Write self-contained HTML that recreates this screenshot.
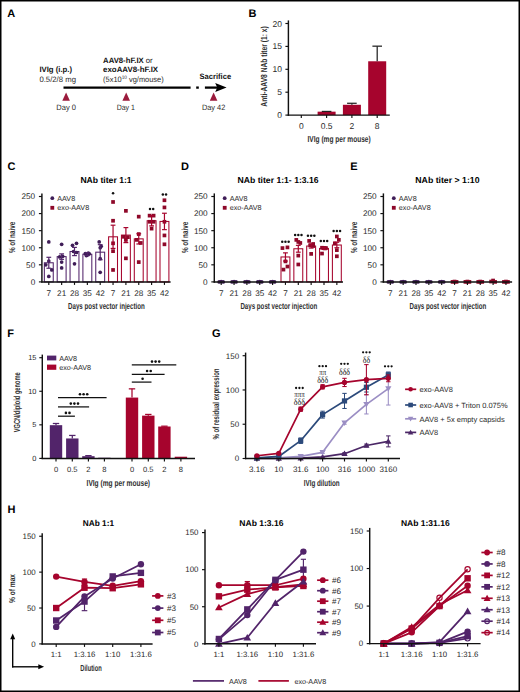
<!DOCTYPE html>
<html><head><meta charset="utf-8"><style>
html,body{margin:0;padding:0;background:#fff;}
body{width:520px;height:692px;overflow:hidden;}
svg{display:block;font-family:"Liberation Sans",sans-serif;text-rendering:geometricPrecision;}
</style></head><body>
<svg width="520" height="692" viewBox="0 0 520 692">
<rect x="0" y="0" width="520" height="692" fill="#fff"/>
<text x="7.30" y="17.00" font-size="11" fill="#000" font-weight="bold">A</text>
<text x="39.40" y="72.00" font-size="7.8" fill="#111" font-weight="bold" textLength="32.70" lengthAdjust="spacingAndGlyphs">IVIg (i.p.)</text>
<text x="39.40" y="81.60" font-size="7.8" fill="#2a2a2a" textLength="36.60" lengthAdjust="spacingAndGlyphs">0.5/2/8 mg</text>
<text x="103.1" y="62.5" font-size="7.8" fill="#111" textLength="49.6" lengthAdjust="spacingAndGlyphs"><tspan font-weight="bold">AAV8-hF.IX</tspan> or</text>
<text x="103.10" y="72.00" font-size="7.8" fill="#111" font-weight="bold" textLength="55.00" lengthAdjust="spacingAndGlyphs">exoAAV8-hF.IX</text>
<text x="103.1" y="81.8" font-size="7.8" fill="#2a2a2a" textLength="60.6" lengthAdjust="spacingAndGlyphs">(5x10<tspan font-size="5" dy="-2.8">10</tspan><tspan dy="2.8"> vg/mouse)</tspan></text>
<text x="199.50" y="78.60" font-size="7.8" fill="#111" font-weight="bold" textLength="31.60" lengthAdjust="spacingAndGlyphs">Sacrifice</text>
<line x1="63.50" y1="87.60" x2="190.60" y2="87.60" stroke="#000" stroke-width="2.3"/>
<line x1="196.20" y1="87.60" x2="198.80" y2="87.60" stroke="#000" stroke-width="2.3"/>
<line x1="204.90" y1="87.60" x2="218.00" y2="87.60" stroke="#000" stroke-width="2.3"/>
<polygon points="215.20,83.00 226.60,87.60 215.20,92.00 217.20,87.60" fill="#000"/>
<polygon points="66.10,92.40 69.90,100.70 62.30,100.70" fill="#9B1B3D"/>
<polygon points="126.20,92.40 130.00,100.70 122.40,100.70" fill="#9B1B3D"/>
<polygon points="213.60,92.40 217.40,100.70 209.80,100.70" fill="#9B1B3D"/>
<text x="66.10" y="109.90" font-size="7.8" fill="#2a2a2a" text-anchor="middle" textLength="19.60" lengthAdjust="spacingAndGlyphs">Day 0</text>
<text x="125.80" y="109.90" font-size="7.8" fill="#2a2a2a" text-anchor="middle" textLength="18.20" lengthAdjust="spacingAndGlyphs">Day 1</text>
<text x="213.60" y="109.90" font-size="7.8" fill="#2a2a2a" text-anchor="middle" textLength="23.40" lengthAdjust="spacingAndGlyphs">Day 42</text>
<text x="248.60" y="17.30" font-size="11" fill="#000" font-weight="bold">B</text>
<line x1="288.40" y1="115.80" x2="288.40" y2="20.40" stroke="#111" stroke-width="1.45"/>
<line x1="285.40" y1="115.10" x2="288.40" y2="115.10" stroke="#111" stroke-width="1.15"/>
<text x="282.00" y="118.12" font-size="8.5" fill="#2a2a2a" text-anchor="end">0</text>
<line x1="285.40" y1="92.20" x2="288.40" y2="92.20" stroke="#111" stroke-width="1.15"/>
<text x="282.00" y="95.22" font-size="8.5" fill="#2a2a2a" text-anchor="end">5</text>
<line x1="285.40" y1="69.30" x2="288.40" y2="69.30" stroke="#111" stroke-width="1.15"/>
<text x="282.00" y="72.32" font-size="8.5" fill="#2a2a2a" text-anchor="end">10</text>
<line x1="285.40" y1="46.40" x2="288.40" y2="46.40" stroke="#111" stroke-width="1.15"/>
<text x="282.00" y="49.42" font-size="8.5" fill="#2a2a2a" text-anchor="end">15</text>
<line x1="285.40" y1="23.50" x2="288.40" y2="23.50" stroke="#111" stroke-width="1.15"/>
<text x="282.00" y="26.52" font-size="8.5" fill="#2a2a2a" text-anchor="end">20</text>
<rect x="317.60" y="111.66" width="18.00" height="3.44" fill="#A6042D"/>
<rect x="342.90" y="104.79" width="18.00" height="10.30" fill="#A6042D"/>
<rect x="368.20" y="61.28" width="18.00" height="53.81" fill="#A6042D"/>
<line x1="326.60" y1="111.66" x2="326.60" y2="111.44" stroke="#222" stroke-width="1.25"/>
<line x1="321.80" y1="111.44" x2="331.40" y2="111.44" stroke="#222" stroke-width="1.25"/>
<line x1="351.90" y1="104.79" x2="351.90" y2="103.28" stroke="#222" stroke-width="1.25"/>
<line x1="347.10" y1="103.28" x2="356.70" y2="103.28" stroke="#222" stroke-width="1.25"/>
<line x1="377.20" y1="61.28" x2="377.20" y2="46.17" stroke="#222" stroke-width="1.25"/>
<line x1="372.40" y1="46.17" x2="382.00" y2="46.17" stroke="#222" stroke-width="1.25"/>
<line x1="287.70" y1="115.10" x2="389.80" y2="115.10" stroke="#111" stroke-width="1.45"/>
<line x1="301.30" y1="115.10" x2="301.30" y2="118.10" stroke="#111" stroke-width="1.15"/>
<text x="301.30" y="128.90" font-size="8.5" fill="#2a2a2a" text-anchor="middle">0</text>
<line x1="326.60" y1="115.10" x2="326.60" y2="118.10" stroke="#111" stroke-width="1.15"/>
<text x="326.60" y="128.90" font-size="8.5" fill="#2a2a2a" text-anchor="middle">0.5</text>
<line x1="351.90" y1="115.10" x2="351.90" y2="118.10" stroke="#111" stroke-width="1.15"/>
<text x="351.90" y="128.90" font-size="8.5" fill="#2a2a2a" text-anchor="middle">2</text>
<line x1="377.20" y1="115.10" x2="377.20" y2="118.10" stroke="#111" stroke-width="1.15"/>
<text x="377.20" y="128.90" font-size="8.5" fill="#2a2a2a" text-anchor="middle">8</text>
<text x="339.10" y="141.80" font-size="8.8" fill="#303030" text-anchor="middle" font-weight="bold" textLength="63.20" lengthAdjust="spacingAndGlyphs">IVIg (mg per mouse)</text>
<text x="266.80" y="66.50" font-size="8.8" fill="#303030" text-anchor="middle" font-weight="bold" textLength="80.30" lengthAdjust="spacingAndGlyphs" transform="rotate(-90 266.80 66.50)">Anti-AAV8 NAb titer (1: x)</text>
<text x="7.40" y="169.80" font-size="11" fill="#000" font-weight="bold">C</text>
<text x="80.40" y="183.40" font-size="8.6" fill="#000" font-weight="bold" textLength="51.20" lengthAdjust="spacingAndGlyphs">NAb titer 1:1</text>
<rect x="44.35" y="262.77" width="8.9" height="19.13" fill="#fff" stroke="#52246A" stroke-width="1.05"/>
<rect x="57.20" y="256.62" width="8.9" height="25.28" fill="#fff" stroke="#52246A" stroke-width="1.05"/>
<rect x="70.05" y="251.50" width="8.9" height="30.40" fill="#fff" stroke="#52246A" stroke-width="1.05"/>
<rect x="82.90" y="254.23" width="8.9" height="27.67" fill="#fff" stroke="#52246A" stroke-width="1.05"/>
<rect x="95.75" y="252.18" width="8.9" height="29.72" fill="#fff" stroke="#52246A" stroke-width="1.05"/>
<rect x="108.60" y="236.81" width="8.9" height="45.09" fill="#fff" stroke="#A6042D" stroke-width="1.05"/>
<rect x="121.45" y="235.10" width="8.9" height="46.80" fill="#fff" stroke="#A6042D" stroke-width="1.05"/>
<rect x="134.30" y="238.86" width="8.9" height="43.04" fill="#fff" stroke="#A6042D" stroke-width="1.05"/>
<rect x="147.15" y="220.75" width="8.9" height="61.15" fill="#fff" stroke="#A6042D" stroke-width="1.05"/>
<rect x="160.00" y="221.44" width="8.9" height="60.46" fill="#fff" stroke="#A6042D" stroke-width="1.05"/>
<circle cx="48.80" cy="241.93" r="1.85" fill="#3F1D57"/>
<circle cx="48.80" cy="261.06" r="1.85" fill="#3F1D57"/>
<circle cx="45.80" cy="264.82" r="1.85" fill="#3F1D57"/>
<circle cx="51.80" cy="269.94" r="1.85" fill="#3F1D57"/>
<circle cx="48.80" cy="276.43" r="1.85" fill="#3F1D57"/>
<circle cx="61.65" cy="244.32" r="1.85" fill="#3F1D57"/>
<circle cx="59.65" cy="256.96" r="1.85" fill="#3F1D57"/>
<circle cx="62.65" cy="256.28" r="1.85" fill="#3F1D57"/>
<circle cx="61.65" cy="262.09" r="1.85" fill="#3F1D57"/>
<circle cx="61.65" cy="267.89" r="1.85" fill="#3F1D57"/>
<circle cx="72.50" cy="245.35" r="1.85" fill="#3F1D57"/>
<circle cx="76.50" cy="243.30" r="1.85" fill="#3F1D57"/>
<circle cx="73.50" cy="251.50" r="1.85" fill="#3F1D57"/>
<circle cx="76.50" cy="252.52" r="1.85" fill="#3F1D57"/>
<circle cx="74.50" cy="263.80" r="1.85" fill="#3F1D57"/>
<circle cx="85.35" cy="253.55" r="1.85" fill="#3F1D57"/>
<circle cx="89.35" cy="253.89" r="1.85" fill="#3F1D57"/>
<circle cx="87.35" cy="254.91" r="1.85" fill="#3F1D57"/>
<circle cx="86.35" cy="255.60" r="1.85" fill="#3F1D57"/>
<circle cx="88.35" cy="253.21" r="1.85" fill="#3F1D57"/>
<circle cx="99.20" cy="241.93" r="1.85" fill="#3F1D57"/>
<circle cx="101.20" cy="246.37" r="1.85" fill="#3F1D57"/>
<circle cx="100.20" cy="247.74" r="1.85" fill="#3F1D57"/>
<circle cx="100.20" cy="258.67" r="1.85" fill="#3F1D57"/>
<circle cx="100.20" cy="272.34" r="1.85" fill="#3F1D57"/>
<rect x="111.20" y="200.12" width="3.70" height="3.70" fill="#8E0829"/>
<rect x="111.20" y="218.90" width="3.70" height="3.70" fill="#8E0829"/>
<rect x="111.20" y="241.45" width="3.70" height="3.70" fill="#8E0829"/>
<rect x="111.20" y="249.31" width="3.70" height="3.70" fill="#8E0829"/>
<rect x="111.20" y="268.09" width="3.70" height="3.70" fill="#8E0829"/>
<rect x="124.05" y="209.00" width="3.70" height="3.70" fill="#8E0829"/>
<rect x="122.05" y="234.96" width="3.70" height="3.70" fill="#8E0829"/>
<rect x="126.05" y="235.30" width="3.70" height="3.70" fill="#8E0829"/>
<rect x="124.05" y="238.03" width="3.70" height="3.70" fill="#8E0829"/>
<rect x="124.05" y="256.48" width="3.70" height="3.70" fill="#8E0829"/>
<rect x="136.90" y="214.80" width="3.70" height="3.70" fill="#8E0829"/>
<rect x="136.90" y="232.23" width="3.70" height="3.70" fill="#8E0829"/>
<rect x="134.90" y="238.03" width="3.70" height="3.70" fill="#8E0829"/>
<rect x="138.90" y="241.11" width="3.70" height="3.70" fill="#8E0829"/>
<rect x="136.90" y="260.24" width="3.70" height="3.70" fill="#8E0829"/>
<rect x="147.75" y="213.78" width="3.70" height="3.70" fill="#8E0829"/>
<rect x="151.75" y="213.78" width="3.70" height="3.70" fill="#8E0829"/>
<rect x="147.75" y="219.93" width="3.70" height="3.70" fill="#8E0829"/>
<rect x="151.75" y="219.93" width="3.70" height="3.70" fill="#8E0829"/>
<rect x="149.75" y="226.76" width="3.70" height="3.70" fill="#8E0829"/>
<rect x="162.60" y="198.41" width="3.70" height="3.70" fill="#8E0829"/>
<rect x="162.60" y="205.58" width="3.70" height="3.70" fill="#8E0829"/>
<rect x="162.60" y="219.93" width="3.70" height="3.70" fill="#8E0829"/>
<rect x="162.60" y="233.59" width="3.70" height="3.70" fill="#8E0829"/>
<rect x="162.60" y="242.47" width="3.70" height="3.70" fill="#8E0829"/>
<line x1="48.80" y1="268.24" x2="48.80" y2="257.30" stroke="#52246A" stroke-width="1.2"/>
<line x1="46.40" y1="257.30" x2="51.20" y2="257.30" stroke="#52246A" stroke-width="1.2"/>
<line x1="46.40" y1="268.24" x2="51.20" y2="268.24" stroke="#52246A" stroke-width="1.2"/>
<line x1="61.65" y1="259.35" x2="61.65" y2="253.89" stroke="#52246A" stroke-width="1.2"/>
<line x1="59.25" y1="253.89" x2="64.05" y2="253.89" stroke="#52246A" stroke-width="1.2"/>
<line x1="59.25" y1="259.35" x2="64.05" y2="259.35" stroke="#52246A" stroke-width="1.2"/>
<line x1="74.50" y1="255.60" x2="74.50" y2="247.40" stroke="#52246A" stroke-width="1.2"/>
<line x1="72.10" y1="247.40" x2="76.90" y2="247.40" stroke="#52246A" stroke-width="1.2"/>
<line x1="72.10" y1="255.60" x2="76.90" y2="255.60" stroke="#52246A" stroke-width="1.2"/>
<line x1="87.35" y1="255.60" x2="87.35" y2="252.86" stroke="#52246A" stroke-width="1.2"/>
<line x1="84.95" y1="252.86" x2="89.75" y2="252.86" stroke="#52246A" stroke-width="1.2"/>
<line x1="84.95" y1="255.60" x2="89.75" y2="255.60" stroke="#52246A" stroke-width="1.2"/>
<line x1="100.20" y1="259.70" x2="100.20" y2="244.67" stroke="#52246A" stroke-width="1.2"/>
<line x1="97.80" y1="244.67" x2="102.60" y2="244.67" stroke="#52246A" stroke-width="1.2"/>
<line x1="97.80" y1="259.70" x2="102.60" y2="259.70" stroke="#52246A" stroke-width="1.2"/>
<line x1="113.05" y1="248.42" x2="113.05" y2="225.19" stroke="#A6042D" stroke-width="1.2"/>
<line x1="110.65" y1="225.19" x2="115.45" y2="225.19" stroke="#A6042D" stroke-width="1.2"/>
<line x1="110.65" y1="248.42" x2="115.45" y2="248.42" stroke="#A6042D" stroke-width="1.2"/>
<line x1="125.90" y1="242.62" x2="125.90" y2="227.59" stroke="#A6042D" stroke-width="1.2"/>
<line x1="123.50" y1="227.59" x2="128.30" y2="227.59" stroke="#A6042D" stroke-width="1.2"/>
<line x1="123.50" y1="242.62" x2="128.30" y2="242.62" stroke="#A6042D" stroke-width="1.2"/>
<line x1="138.75" y1="243.98" x2="138.75" y2="233.73" stroke="#A6042D" stroke-width="1.2"/>
<line x1="136.35" y1="233.73" x2="141.15" y2="233.73" stroke="#A6042D" stroke-width="1.2"/>
<line x1="136.35" y1="243.98" x2="141.15" y2="243.98" stroke="#A6042D" stroke-width="1.2"/>
<line x1="151.60" y1="225.88" x2="151.60" y2="215.63" stroke="#A6042D" stroke-width="1.2"/>
<line x1="149.20" y1="215.63" x2="154.00" y2="215.63" stroke="#A6042D" stroke-width="1.2"/>
<line x1="149.20" y1="225.88" x2="154.00" y2="225.88" stroke="#A6042D" stroke-width="1.2"/>
<line x1="164.45" y1="229.64" x2="164.45" y2="213.24" stroke="#A6042D" stroke-width="1.2"/>
<line x1="162.05" y1="213.24" x2="166.85" y2="213.24" stroke="#A6042D" stroke-width="1.2"/>
<line x1="162.05" y1="229.64" x2="166.85" y2="229.64" stroke="#A6042D" stroke-width="1.2"/>
<circle cx="113.05" cy="193.20" r="1.25" fill="#111"/>
<circle cx="150.00" cy="208.90" r="1.25" fill="#111"/>
<circle cx="153.20" cy="208.90" r="1.25" fill="#111"/>
<circle cx="162.85" cy="194.40" r="1.25" fill="#111"/>
<circle cx="166.05" cy="194.40" r="1.25" fill="#111"/>
<line x1="41.90" y1="282.60" x2="41.90" y2="193.40" stroke="#111" stroke-width="1.45"/>
<line x1="38.90" y1="281.90" x2="41.90" y2="281.90" stroke="#111" stroke-width="1.15"/>
<text x="35.20" y="284.81" font-size="8.2" fill="#2a2a2a" text-anchor="end">0</text>
<line x1="38.90" y1="264.82" x2="41.90" y2="264.82" stroke="#111" stroke-width="1.15"/>
<text x="35.20" y="267.73" font-size="8.2" fill="#2a2a2a" text-anchor="end">50</text>
<line x1="38.90" y1="247.74" x2="41.90" y2="247.74" stroke="#111" stroke-width="1.15"/>
<text x="35.20" y="250.65" font-size="8.2" fill="#2a2a2a" text-anchor="end">100</text>
<line x1="38.90" y1="230.66" x2="41.90" y2="230.66" stroke="#111" stroke-width="1.15"/>
<text x="35.20" y="233.57" font-size="8.2" fill="#2a2a2a" text-anchor="end">150</text>
<line x1="38.90" y1="213.58" x2="41.90" y2="213.58" stroke="#111" stroke-width="1.15"/>
<text x="35.20" y="216.49" font-size="8.2" fill="#2a2a2a" text-anchor="end">200</text>
<line x1="38.90" y1="196.50" x2="41.90" y2="196.50" stroke="#111" stroke-width="1.15"/>
<text x="35.20" y="199.41" font-size="8.2" fill="#2a2a2a" text-anchor="end">250</text>
<line x1="41.20" y1="281.90" x2="170.60" y2="281.90" stroke="#111" stroke-width="1.45"/>
<line x1="48.80" y1="281.90" x2="48.80" y2="284.90" stroke="#111" stroke-width="1.15"/>
<text x="48.80" y="295.80" font-size="8.2" fill="#2a2a2a" text-anchor="middle">7</text>
<line x1="61.65" y1="281.90" x2="61.65" y2="284.90" stroke="#111" stroke-width="1.15"/>
<text x="61.65" y="295.80" font-size="8.2" fill="#2a2a2a" text-anchor="middle">21</text>
<line x1="74.50" y1="281.90" x2="74.50" y2="284.90" stroke="#111" stroke-width="1.15"/>
<text x="74.50" y="295.80" font-size="8.2" fill="#2a2a2a" text-anchor="middle">28</text>
<line x1="87.35" y1="281.90" x2="87.35" y2="284.90" stroke="#111" stroke-width="1.15"/>
<text x="87.35" y="295.80" font-size="8.2" fill="#2a2a2a" text-anchor="middle">35</text>
<line x1="100.20" y1="281.90" x2="100.20" y2="284.90" stroke="#111" stroke-width="1.15"/>
<text x="100.20" y="295.80" font-size="8.2" fill="#2a2a2a" text-anchor="middle">42</text>
<line x1="113.05" y1="281.90" x2="113.05" y2="284.90" stroke="#111" stroke-width="1.15"/>
<text x="113.05" y="295.80" font-size="8.2" fill="#2a2a2a" text-anchor="middle">7</text>
<line x1="125.90" y1="281.90" x2="125.90" y2="284.90" stroke="#111" stroke-width="1.15"/>
<text x="125.90" y="295.80" font-size="8.2" fill="#2a2a2a" text-anchor="middle">21</text>
<line x1="138.75" y1="281.90" x2="138.75" y2="284.90" stroke="#111" stroke-width="1.15"/>
<text x="138.75" y="295.80" font-size="8.2" fill="#2a2a2a" text-anchor="middle">28</text>
<line x1="151.60" y1="281.90" x2="151.60" y2="284.90" stroke="#111" stroke-width="1.15"/>
<text x="151.60" y="295.80" font-size="8.2" fill="#2a2a2a" text-anchor="middle">35</text>
<line x1="164.45" y1="281.90" x2="164.45" y2="284.90" stroke="#111" stroke-width="1.15"/>
<text x="164.45" y="295.80" font-size="8.2" fill="#2a2a2a" text-anchor="middle">42</text>
<text x="106.40" y="308.50" font-size="8.8" fill="#303030" text-anchor="middle" font-weight="bold" textLength="76.80" lengthAdjust="spacingAndGlyphs">Days post vector injection</text>
<text x="15.50" y="237.40" font-size="8.8" fill="#303030" text-anchor="middle" font-weight="bold" textLength="31.20" lengthAdjust="spacingAndGlyphs" transform="rotate(-90 15.50 237.40)">% of naive</text>
<circle cx="52.30" cy="198.20" r="1.90" fill="#3F1D57"/>
<text x="57.30" y="200.60" font-size="7.2" fill="#2a2a2a">AAV8</text>
<rect x="50.40" y="205.90" width="3.80" height="3.80" fill="#8E0829"/>
<text x="57.30" y="210.30" font-size="7.2" fill="#2a2a2a">exo-AAV8</text>
<text x="181.00" y="169.80" font-size="11" fill="#000" font-weight="bold">D</text>
<text x="237.60" y="183.40" font-size="8.6" fill="#000" font-weight="bold" textLength="81.00" lengthAdjust="spacingAndGlyphs">NAb titer 1:1- 1:3.16</text>
<rect x="281.00" y="256.96" width="8.9" height="24.94" fill="#fff" stroke="#A6042D" stroke-width="1.05"/>
<rect x="293.85" y="248.76" width="8.9" height="33.14" fill="#fff" stroke="#A6042D" stroke-width="1.05"/>
<rect x="306.70" y="246.03" width="8.9" height="35.87" fill="#fff" stroke="#A6042D" stroke-width="1.05"/>
<rect x="319.55" y="248.42" width="8.9" height="33.48" fill="#fff" stroke="#A6042D" stroke-width="1.05"/>
<rect x="332.40" y="245.01" width="8.9" height="36.89" fill="#fff" stroke="#A6042D" stroke-width="1.05"/>
<circle cx="221.20" cy="281.56" r="1.85" fill="#3F1D57"/>
<circle cx="219.20" cy="281.90" r="1.85" fill="#3F1D57"/>
<circle cx="223.20" cy="281.90" r="1.85" fill="#3F1D57"/>
<circle cx="234.05" cy="281.56" r="1.85" fill="#3F1D57"/>
<circle cx="232.05" cy="281.90" r="1.85" fill="#3F1D57"/>
<circle cx="236.05" cy="281.90" r="1.85" fill="#3F1D57"/>
<circle cx="246.90" cy="281.56" r="1.85" fill="#3F1D57"/>
<circle cx="244.90" cy="281.90" r="1.85" fill="#3F1D57"/>
<circle cx="248.90" cy="281.90" r="1.85" fill="#3F1D57"/>
<circle cx="259.75" cy="281.56" r="1.85" fill="#3F1D57"/>
<circle cx="257.75" cy="281.90" r="1.85" fill="#3F1D57"/>
<circle cx="261.75" cy="281.90" r="1.85" fill="#3F1D57"/>
<circle cx="272.60" cy="281.56" r="1.85" fill="#3F1D57"/>
<circle cx="270.60" cy="281.90" r="1.85" fill="#3F1D57"/>
<circle cx="274.60" cy="281.90" r="1.85" fill="#3F1D57"/>
<rect x="280.60" y="246.23" width="3.70" height="3.70" fill="#8E0829"/>
<rect x="285.60" y="245.55" width="3.70" height="3.70" fill="#8E0829"/>
<rect x="285.60" y="264.68" width="3.70" height="3.70" fill="#8E0829"/>
<rect x="281.60" y="267.75" width="3.70" height="3.70" fill="#8E0829"/>
<rect x="283.60" y="259.55" width="3.70" height="3.70" fill="#8E0829"/>
<rect x="294.45" y="238.03" width="3.70" height="3.70" fill="#8E0829"/>
<rect x="298.45" y="241.11" width="3.70" height="3.70" fill="#8E0829"/>
<rect x="296.45" y="240.08" width="3.70" height="3.70" fill="#8E0829"/>
<rect x="296.45" y="253.75" width="3.70" height="3.70" fill="#8E0829"/>
<rect x="296.45" y="262.63" width="3.70" height="3.70" fill="#8E0829"/>
<rect x="307.30" y="239.06" width="3.70" height="3.70" fill="#8E0829"/>
<rect x="311.30" y="242.13" width="3.70" height="3.70" fill="#8E0829"/>
<rect x="308.30" y="243.50" width="3.70" height="3.70" fill="#8E0829"/>
<rect x="311.30" y="244.18" width="3.70" height="3.70" fill="#8E0829"/>
<rect x="309.30" y="252.04" width="3.70" height="3.70" fill="#8E0829"/>
<rect x="320.15" y="245.89" width="3.70" height="3.70" fill="#8E0829"/>
<rect x="324.15" y="246.23" width="3.70" height="3.70" fill="#8E0829"/>
<rect x="322.15" y="246.23" width="3.70" height="3.70" fill="#8E0829"/>
<rect x="323.15" y="246.57" width="3.70" height="3.70" fill="#8E0829"/>
<rect x="320.15" y="251.70" width="3.70" height="3.70" fill="#8E0829"/>
<rect x="335.00" y="234.62" width="3.70" height="3.70" fill="#8E0829"/>
<rect x="337.00" y="238.03" width="3.70" height="3.70" fill="#8E0829"/>
<rect x="333.00" y="241.45" width="3.70" height="3.70" fill="#8E0829"/>
<rect x="335.00" y="248.28" width="3.70" height="3.70" fill="#8E0829"/>
<rect x="335.00" y="254.43" width="3.70" height="3.70" fill="#8E0829"/>
<line x1="285.45" y1="261.06" x2="285.45" y2="252.86" stroke="#A6042D" stroke-width="1.2"/>
<line x1="283.05" y1="252.86" x2="287.85" y2="252.86" stroke="#A6042D" stroke-width="1.2"/>
<line x1="283.05" y1="261.06" x2="287.85" y2="261.06" stroke="#A6042D" stroke-width="1.2"/>
<line x1="298.30" y1="252.18" x2="298.30" y2="245.35" stroke="#A6042D" stroke-width="1.2"/>
<line x1="295.90" y1="245.35" x2="300.70" y2="245.35" stroke="#A6042D" stroke-width="1.2"/>
<line x1="295.90" y1="252.18" x2="300.70" y2="252.18" stroke="#A6042D" stroke-width="1.2"/>
<line x1="311.15" y1="248.08" x2="311.15" y2="243.98" stroke="#A6042D" stroke-width="1.2"/>
<line x1="308.75" y1="243.98" x2="313.55" y2="243.98" stroke="#A6042D" stroke-width="1.2"/>
<line x1="308.75" y1="248.08" x2="313.55" y2="248.08" stroke="#A6042D" stroke-width="1.2"/>
<line x1="324.00" y1="249.45" x2="324.00" y2="247.40" stroke="#A6042D" stroke-width="1.2"/>
<line x1="321.60" y1="247.40" x2="326.40" y2="247.40" stroke="#A6042D" stroke-width="1.2"/>
<line x1="321.60" y1="249.45" x2="326.40" y2="249.45" stroke="#A6042D" stroke-width="1.2"/>
<line x1="336.85" y1="247.74" x2="336.85" y2="242.27" stroke="#A6042D" stroke-width="1.2"/>
<line x1="334.45" y1="242.27" x2="339.25" y2="242.27" stroke="#A6042D" stroke-width="1.2"/>
<line x1="334.45" y1="247.74" x2="339.25" y2="247.74" stroke="#A6042D" stroke-width="1.2"/>
<circle cx="282.25" cy="241.80" r="1.25" fill="#111"/>
<circle cx="285.45" cy="241.80" r="1.25" fill="#111"/>
<circle cx="288.65" cy="241.80" r="1.25" fill="#111"/>
<circle cx="295.10" cy="235.10" r="1.25" fill="#111"/>
<circle cx="298.30" cy="235.10" r="1.25" fill="#111"/>
<circle cx="301.50" cy="235.10" r="1.25" fill="#111"/>
<circle cx="307.95" cy="235.80" r="1.25" fill="#111"/>
<circle cx="311.15" cy="235.80" r="1.25" fill="#111"/>
<circle cx="314.35" cy="235.80" r="1.25" fill="#111"/>
<circle cx="320.80" cy="240.90" r="1.25" fill="#111"/>
<circle cx="324.00" cy="240.90" r="1.25" fill="#111"/>
<circle cx="327.20" cy="240.90" r="1.25" fill="#111"/>
<circle cx="333.65" cy="231.10" r="1.25" fill="#111"/>
<circle cx="336.85" cy="231.10" r="1.25" fill="#111"/>
<circle cx="340.05" cy="231.10" r="1.25" fill="#111"/>
<line x1="214.30" y1="282.60" x2="214.30" y2="193.40" stroke="#111" stroke-width="1.45"/>
<line x1="211.30" y1="281.90" x2="214.30" y2="281.90" stroke="#111" stroke-width="1.15"/>
<text x="207.60" y="284.81" font-size="8.2" fill="#2a2a2a" text-anchor="end">0</text>
<line x1="211.30" y1="264.82" x2="214.30" y2="264.82" stroke="#111" stroke-width="1.15"/>
<text x="207.60" y="267.73" font-size="8.2" fill="#2a2a2a" text-anchor="end">50</text>
<line x1="211.30" y1="247.74" x2="214.30" y2="247.74" stroke="#111" stroke-width="1.15"/>
<text x="207.60" y="250.65" font-size="8.2" fill="#2a2a2a" text-anchor="end">100</text>
<line x1="211.30" y1="230.66" x2="214.30" y2="230.66" stroke="#111" stroke-width="1.15"/>
<text x="207.60" y="233.57" font-size="8.2" fill="#2a2a2a" text-anchor="end">150</text>
<line x1="211.30" y1="213.58" x2="214.30" y2="213.58" stroke="#111" stroke-width="1.15"/>
<text x="207.60" y="216.49" font-size="8.2" fill="#2a2a2a" text-anchor="end">200</text>
<line x1="211.30" y1="196.50" x2="214.30" y2="196.50" stroke="#111" stroke-width="1.15"/>
<text x="207.60" y="199.41" font-size="8.2" fill="#2a2a2a" text-anchor="end">250</text>
<line x1="213.60" y1="281.90" x2="343.00" y2="281.90" stroke="#111" stroke-width="1.45"/>
<line x1="221.20" y1="281.90" x2="221.20" y2="284.90" stroke="#111" stroke-width="1.15"/>
<text x="221.20" y="295.80" font-size="8.2" fill="#2a2a2a" text-anchor="middle">7</text>
<line x1="234.05" y1="281.90" x2="234.05" y2="284.90" stroke="#111" stroke-width="1.15"/>
<text x="234.05" y="295.80" font-size="8.2" fill="#2a2a2a" text-anchor="middle">21</text>
<line x1="246.90" y1="281.90" x2="246.90" y2="284.90" stroke="#111" stroke-width="1.15"/>
<text x="246.90" y="295.80" font-size="8.2" fill="#2a2a2a" text-anchor="middle">28</text>
<line x1="259.75" y1="281.90" x2="259.75" y2="284.90" stroke="#111" stroke-width="1.15"/>
<text x="259.75" y="295.80" font-size="8.2" fill="#2a2a2a" text-anchor="middle">35</text>
<line x1="272.60" y1="281.90" x2="272.60" y2="284.90" stroke="#111" stroke-width="1.15"/>
<text x="272.60" y="295.80" font-size="8.2" fill="#2a2a2a" text-anchor="middle">42</text>
<line x1="285.45" y1="281.90" x2="285.45" y2="284.90" stroke="#111" stroke-width="1.15"/>
<text x="285.45" y="295.80" font-size="8.2" fill="#2a2a2a" text-anchor="middle">7</text>
<line x1="298.30" y1="281.90" x2="298.30" y2="284.90" stroke="#111" stroke-width="1.15"/>
<text x="298.30" y="295.80" font-size="8.2" fill="#2a2a2a" text-anchor="middle">21</text>
<line x1="311.15" y1="281.90" x2="311.15" y2="284.90" stroke="#111" stroke-width="1.15"/>
<text x="311.15" y="295.80" font-size="8.2" fill="#2a2a2a" text-anchor="middle">28</text>
<line x1="324.00" y1="281.90" x2="324.00" y2="284.90" stroke="#111" stroke-width="1.15"/>
<text x="324.00" y="295.80" font-size="8.2" fill="#2a2a2a" text-anchor="middle">35</text>
<line x1="336.85" y1="281.90" x2="336.85" y2="284.90" stroke="#111" stroke-width="1.15"/>
<text x="336.85" y="295.80" font-size="8.2" fill="#2a2a2a" text-anchor="middle">42</text>
<text x="278.80" y="308.50" font-size="8.8" fill="#303030" text-anchor="middle" font-weight="bold" textLength="76.80" lengthAdjust="spacingAndGlyphs">Days post vector injection</text>
<text x="187.90" y="237.40" font-size="8.8" fill="#303030" text-anchor="middle" font-weight="bold" textLength="31.20" lengthAdjust="spacingAndGlyphs" transform="rotate(-90 187.90 237.40)">% of naive</text>
<circle cx="224.70" cy="198.20" r="1.90" fill="#3F1D57"/>
<text x="229.70" y="200.60" font-size="7.2" fill="#2a2a2a">AAV8</text>
<rect x="222.80" y="205.90" width="3.80" height="3.80" fill="#8E0829"/>
<text x="229.70" y="210.30" font-size="7.2" fill="#2a2a2a">exo-AAV8</text>
<text x="350.20" y="169.80" font-size="11" fill="#000" font-weight="bold">E</text>
<text x="415.30" y="183.40" font-size="8.6" fill="#000" font-weight="bold" textLength="64.20" lengthAdjust="spacingAndGlyphs">NAb titer &gt; 1:10</text>
<circle cx="390.30" cy="281.56" r="1.85" fill="#3F1D57"/>
<circle cx="388.30" cy="281.90" r="1.85" fill="#3F1D57"/>
<circle cx="392.30" cy="281.90" r="1.85" fill="#3F1D57"/>
<circle cx="403.15" cy="281.56" r="1.85" fill="#3F1D57"/>
<circle cx="401.15" cy="281.90" r="1.85" fill="#3F1D57"/>
<circle cx="405.15" cy="281.90" r="1.85" fill="#3F1D57"/>
<circle cx="416.00" cy="281.56" r="1.85" fill="#3F1D57"/>
<circle cx="414.00" cy="281.90" r="1.85" fill="#3F1D57"/>
<circle cx="418.00" cy="281.90" r="1.85" fill="#3F1D57"/>
<circle cx="428.85" cy="281.56" r="1.85" fill="#3F1D57"/>
<circle cx="426.85" cy="281.90" r="1.85" fill="#3F1D57"/>
<circle cx="430.85" cy="281.90" r="1.85" fill="#3F1D57"/>
<circle cx="441.70" cy="281.56" r="1.85" fill="#3F1D57"/>
<circle cx="439.70" cy="281.90" r="1.85" fill="#3F1D57"/>
<circle cx="443.70" cy="281.90" r="1.85" fill="#3F1D57"/>
<rect x="452.70" y="279.71" width="3.70" height="3.70" fill="#8E0829"/>
<rect x="450.70" y="280.05" width="3.70" height="3.70" fill="#8E0829"/>
<rect x="454.70" y="280.05" width="3.70" height="3.70" fill="#8E0829"/>
<rect x="465.55" y="279.71" width="3.70" height="3.70" fill="#8E0829"/>
<rect x="463.55" y="280.05" width="3.70" height="3.70" fill="#8E0829"/>
<rect x="467.55" y="280.05" width="3.70" height="3.70" fill="#8E0829"/>
<rect x="478.40" y="279.71" width="3.70" height="3.70" fill="#8E0829"/>
<rect x="476.40" y="280.05" width="3.70" height="3.70" fill="#8E0829"/>
<rect x="480.40" y="280.05" width="3.70" height="3.70" fill="#8E0829"/>
<rect x="491.25" y="278.68" width="3.70" height="3.70" fill="#8E0829"/>
<rect x="489.25" y="279.71" width="3.70" height="3.70" fill="#8E0829"/>
<rect x="493.25" y="280.05" width="3.70" height="3.70" fill="#8E0829"/>
<rect x="504.10" y="279.71" width="3.70" height="3.70" fill="#8E0829"/>
<rect x="502.10" y="280.05" width="3.70" height="3.70" fill="#8E0829"/>
<rect x="506.10" y="280.05" width="3.70" height="3.70" fill="#8E0829"/>
<line x1="383.40" y1="282.60" x2="383.40" y2="193.40" stroke="#111" stroke-width="1.45"/>
<line x1="380.40" y1="281.90" x2="383.40" y2="281.90" stroke="#111" stroke-width="1.15"/>
<text x="376.70" y="284.81" font-size="8.2" fill="#2a2a2a" text-anchor="end">0</text>
<line x1="380.40" y1="264.82" x2="383.40" y2="264.82" stroke="#111" stroke-width="1.15"/>
<text x="376.70" y="267.73" font-size="8.2" fill="#2a2a2a" text-anchor="end">50</text>
<line x1="380.40" y1="247.74" x2="383.40" y2="247.74" stroke="#111" stroke-width="1.15"/>
<text x="376.70" y="250.65" font-size="8.2" fill="#2a2a2a" text-anchor="end">100</text>
<line x1="380.40" y1="230.66" x2="383.40" y2="230.66" stroke="#111" stroke-width="1.15"/>
<text x="376.70" y="233.57" font-size="8.2" fill="#2a2a2a" text-anchor="end">150</text>
<line x1="380.40" y1="213.58" x2="383.40" y2="213.58" stroke="#111" stroke-width="1.15"/>
<text x="376.70" y="216.49" font-size="8.2" fill="#2a2a2a" text-anchor="end">200</text>
<line x1="380.40" y1="196.50" x2="383.40" y2="196.50" stroke="#111" stroke-width="1.15"/>
<text x="376.70" y="199.41" font-size="8.2" fill="#2a2a2a" text-anchor="end">250</text>
<line x1="382.70" y1="281.90" x2="512.10" y2="281.90" stroke="#111" stroke-width="1.45"/>
<line x1="390.30" y1="281.90" x2="390.30" y2="284.90" stroke="#111" stroke-width="1.15"/>
<text x="390.30" y="295.80" font-size="8.2" fill="#2a2a2a" text-anchor="middle">7</text>
<line x1="403.15" y1="281.90" x2="403.15" y2="284.90" stroke="#111" stroke-width="1.15"/>
<text x="403.15" y="295.80" font-size="8.2" fill="#2a2a2a" text-anchor="middle">21</text>
<line x1="416.00" y1="281.90" x2="416.00" y2="284.90" stroke="#111" stroke-width="1.15"/>
<text x="416.00" y="295.80" font-size="8.2" fill="#2a2a2a" text-anchor="middle">28</text>
<line x1="428.85" y1="281.90" x2="428.85" y2="284.90" stroke="#111" stroke-width="1.15"/>
<text x="428.85" y="295.80" font-size="8.2" fill="#2a2a2a" text-anchor="middle">35</text>
<line x1="441.70" y1="281.90" x2="441.70" y2="284.90" stroke="#111" stroke-width="1.15"/>
<text x="441.70" y="295.80" font-size="8.2" fill="#2a2a2a" text-anchor="middle">42</text>
<line x1="454.55" y1="281.90" x2="454.55" y2="284.90" stroke="#111" stroke-width="1.15"/>
<text x="454.55" y="295.80" font-size="8.2" fill="#2a2a2a" text-anchor="middle">7</text>
<line x1="467.40" y1="281.90" x2="467.40" y2="284.90" stroke="#111" stroke-width="1.15"/>
<text x="467.40" y="295.80" font-size="8.2" fill="#2a2a2a" text-anchor="middle">21</text>
<line x1="480.25" y1="281.90" x2="480.25" y2="284.90" stroke="#111" stroke-width="1.15"/>
<text x="480.25" y="295.80" font-size="8.2" fill="#2a2a2a" text-anchor="middle">28</text>
<line x1="493.10" y1="281.90" x2="493.10" y2="284.90" stroke="#111" stroke-width="1.15"/>
<text x="493.10" y="295.80" font-size="8.2" fill="#2a2a2a" text-anchor="middle">35</text>
<line x1="505.95" y1="281.90" x2="505.95" y2="284.90" stroke="#111" stroke-width="1.15"/>
<text x="505.95" y="295.80" font-size="8.2" fill="#2a2a2a" text-anchor="middle">42</text>
<text x="447.90" y="308.50" font-size="8.8" fill="#303030" text-anchor="middle" font-weight="bold" textLength="76.80" lengthAdjust="spacingAndGlyphs">Days post vector injection</text>
<text x="357.00" y="237.40" font-size="8.8" fill="#303030" text-anchor="middle" font-weight="bold" textLength="31.20" lengthAdjust="spacingAndGlyphs" transform="rotate(-90 357.00 237.40)">% of naive</text>
<circle cx="393.80" cy="198.20" r="1.90" fill="#3F1D57"/>
<text x="398.80" y="200.60" font-size="7.2" fill="#2a2a2a">AAV8</text>
<rect x="391.90" y="205.90" width="3.80" height="3.80" fill="#8E0829"/>
<text x="398.80" y="210.30" font-size="7.2" fill="#2a2a2a">exo-AAV8</text>
<text x="7.20" y="337.40" font-size="11" fill="#000" font-weight="bold">F</text>
<line x1="42.30" y1="459.10" x2="42.30" y2="354.60" stroke="#111" stroke-width="1.45"/>
<line x1="39.30" y1="458.40" x2="42.30" y2="458.40" stroke="#111" stroke-width="1.15"/>
<text x="36.40" y="461.03" font-size="7.4" fill="#2a2a2a" text-anchor="end">0</text>
<line x1="39.30" y1="424.83" x2="42.30" y2="424.83" stroke="#111" stroke-width="1.15"/>
<text x="36.40" y="427.46" font-size="7.4" fill="#2a2a2a" text-anchor="end">5</text>
<line x1="39.30" y1="391.27" x2="42.30" y2="391.27" stroke="#111" stroke-width="1.15"/>
<text x="36.40" y="393.89" font-size="7.4" fill="#2a2a2a" text-anchor="end">10</text>
<line x1="39.30" y1="357.70" x2="42.30" y2="357.70" stroke="#111" stroke-width="1.15"/>
<text x="36.40" y="360.33" font-size="7.4" fill="#2a2a2a" text-anchor="end">15</text>
<rect x="49.80" y="425.17" width="12.40" height="33.23" fill="#52246A"/>
<line x1="56.00" y1="425.17" x2="56.00" y2="423.49" stroke="#52246A" stroke-width="1.25"/>
<line x1="52.80" y1="423.49" x2="59.20" y2="423.49" stroke="#52246A" stroke-width="1.25"/>
<rect x="66.10" y="438.46" width="12.40" height="19.94" fill="#52246A"/>
<line x1="72.30" y1="438.46" x2="72.30" y2="435.44" stroke="#52246A" stroke-width="1.25"/>
<line x1="69.10" y1="435.44" x2="75.50" y2="435.44" stroke="#52246A" stroke-width="1.25"/>
<rect x="82.20" y="456.18" width="12.40" height="2.22" fill="#52246A"/>
<line x1="88.40" y1="456.18" x2="88.40" y2="455.65" stroke="#52246A" stroke-width="1.25"/>
<line x1="85.20" y1="455.65" x2="91.60" y2="455.65" stroke="#52246A" stroke-width="1.25"/>
<rect x="98.20" y="457.73" width="12.40" height="0.67" fill="#52246A"/>
<rect x="125.80" y="397.58" width="12.40" height="60.82" fill="#A6042D"/>
<line x1="132.00" y1="397.58" x2="132.00" y2="388.85" stroke="#A6042D" stroke-width="1.25"/>
<line x1="128.80" y1="388.85" x2="135.20" y2="388.85" stroke="#A6042D" stroke-width="1.25"/>
<rect x="142.10" y="415.64" width="12.40" height="42.76" fill="#A6042D"/>
<line x1="148.30" y1="415.64" x2="148.30" y2="414.43" stroke="#A6042D" stroke-width="1.25"/>
<line x1="145.10" y1="414.43" x2="151.50" y2="414.43" stroke="#A6042D" stroke-width="1.25"/>
<rect x="158.20" y="426.51" width="12.40" height="31.89" fill="#A6042D"/>
<line x1="164.40" y1="426.51" x2="164.40" y2="426.18" stroke="#A6042D" stroke-width="1.25"/>
<line x1="161.20" y1="426.18" x2="167.60" y2="426.18" stroke="#A6042D" stroke-width="1.25"/>
<rect x="174.70" y="456.72" width="12.40" height="1.68" fill="#A6042D"/>
<line x1="41.60" y1="458.40" x2="195.00" y2="458.40" stroke="#111" stroke-width="1.45"/>
<line x1="56.00" y1="458.40" x2="56.00" y2="461.40" stroke="#111" stroke-width="1.15"/>
<text x="56.00" y="471.80" font-size="7.6" fill="#2a2a2a" text-anchor="middle">0</text>
<line x1="72.30" y1="458.40" x2="72.30" y2="461.40" stroke="#111" stroke-width="1.15"/>
<text x="72.30" y="471.80" font-size="7.6" fill="#2a2a2a" text-anchor="middle">0.5</text>
<line x1="88.40" y1="458.40" x2="88.40" y2="461.40" stroke="#111" stroke-width="1.15"/>
<text x="88.40" y="471.80" font-size="7.6" fill="#2a2a2a" text-anchor="middle">2</text>
<line x1="104.40" y1="458.40" x2="104.40" y2="461.40" stroke="#111" stroke-width="1.15"/>
<text x="104.40" y="471.80" font-size="7.6" fill="#2a2a2a" text-anchor="middle">8</text>
<line x1="132.00" y1="458.40" x2="132.00" y2="461.40" stroke="#111" stroke-width="1.15"/>
<text x="132.00" y="471.80" font-size="7.6" fill="#2a2a2a" text-anchor="middle">0</text>
<line x1="148.30" y1="458.40" x2="148.30" y2="461.40" stroke="#111" stroke-width="1.15"/>
<text x="148.30" y="471.80" font-size="7.6" fill="#2a2a2a" text-anchor="middle">0.5</text>
<line x1="164.40" y1="458.40" x2="164.40" y2="461.40" stroke="#111" stroke-width="1.15"/>
<text x="164.40" y="471.80" font-size="7.6" fill="#2a2a2a" text-anchor="middle">2</text>
<line x1="180.90" y1="458.40" x2="180.90" y2="461.40" stroke="#111" stroke-width="1.15"/>
<text x="180.90" y="471.80" font-size="7.6" fill="#2a2a2a" text-anchor="middle">8</text>
<text x="118.30" y="486.20" font-size="8.8" fill="#303030" text-anchor="middle" font-weight="bold" textLength="63.50" lengthAdjust="spacingAndGlyphs">IVIg (mg per mouse)</text>
<text x="19.60" y="402.30" font-size="8.8" fill="#303030" text-anchor="middle" font-weight="bold" textLength="59.80" lengthAdjust="spacingAndGlyphs" transform="rotate(-90 19.60 402.30)">VGCN/diploid genome</text>
<rect x="47.00" y="355.60" width="9.30" height="4.80" fill="#52246A"/>
<rect x="47.00" y="364.60" width="9.30" height="5.20" fill="#A6042D"/>
<text x="59.20" y="360.70" font-size="7.2" fill="#2a2a2a">AAV8</text>
<text x="59.20" y="369.80" font-size="7.2" fill="#2a2a2a">exo-AAV8</text>
<line x1="58.00" y1="397.60" x2="106.60" y2="397.60" stroke="#111" stroke-width="1.25"/>
<circle cx="80.00" cy="394.30" r="1.30" fill="#111"/>
<circle cx="83.60" cy="394.30" r="1.30" fill="#111"/>
<circle cx="87.20" cy="394.30" r="1.30" fill="#111"/>
<line x1="58.00" y1="406.90" x2="89.10" y2="406.90" stroke="#111" stroke-width="1.25"/>
<circle cx="70.80" cy="403.60" r="1.30" fill="#111"/>
<circle cx="74.40" cy="403.60" r="1.30" fill="#111"/>
<circle cx="78.00" cy="403.60" r="1.30" fill="#111"/>
<line x1="58.00" y1="416.20" x2="74.90" y2="416.20" stroke="#111" stroke-width="1.25"/>
<circle cx="65.90" cy="412.90" r="1.30" fill="#111"/>
<circle cx="69.50" cy="412.90" r="1.30" fill="#111"/>
<line x1="131.80" y1="364.90" x2="176.30" y2="364.90" stroke="#111" stroke-width="1.25"/>
<circle cx="152.00" cy="361.60" r="1.30" fill="#111"/>
<circle cx="155.60" cy="361.60" r="1.30" fill="#111"/>
<circle cx="159.20" cy="361.60" r="1.30" fill="#111"/>
<line x1="131.80" y1="374.30" x2="164.60" y2="374.30" stroke="#111" stroke-width="1.25"/>
<circle cx="147.10" cy="371.00" r="1.30" fill="#111"/>
<circle cx="150.70" cy="371.00" r="1.30" fill="#111"/>
<line x1="131.80" y1="382.10" x2="151.50" y2="382.10" stroke="#111" stroke-width="1.25"/>
<circle cx="142.60" cy="378.80" r="1.30" fill="#111"/>
<text x="212.00" y="337.40" font-size="11" fill="#000" font-weight="bold">G</text>
<line x1="245.60" y1="459.20" x2="245.60" y2="352.60" stroke="#111" stroke-width="1.45"/>
<line x1="242.60" y1="458.50" x2="245.60" y2="458.50" stroke="#111" stroke-width="1.15"/>
<text x="239.20" y="461.34" font-size="8" fill="#2a2a2a" text-anchor="end">0</text>
<line x1="242.60" y1="424.23" x2="245.60" y2="424.23" stroke="#111" stroke-width="1.15"/>
<text x="239.20" y="427.07" font-size="8" fill="#2a2a2a" text-anchor="end">50</text>
<line x1="242.60" y1="389.97" x2="245.60" y2="389.97" stroke="#111" stroke-width="1.15"/>
<text x="239.20" y="392.81" font-size="8" fill="#2a2a2a" text-anchor="end">100</text>
<line x1="242.60" y1="355.70" x2="245.60" y2="355.70" stroke="#111" stroke-width="1.15"/>
<text x="239.20" y="358.54" font-size="8" fill="#2a2a2a" text-anchor="end">150</text>
<polyline points="256.90,458.50 278.80,458.50 300.70,458.16 322.60,456.79 344.50,453.70 366.40,445.48 388.30,441.37" fill="none" stroke="#4B2766" stroke-width="1.7" stroke-linejoin="round"/>
<line x1="344.50" y1="452.67" x2="344.50" y2="454.73" stroke="#4B2766" stroke-width="1.05"/>
<line x1="342.30" y1="452.67" x2="346.70" y2="452.67" stroke="#4B2766" stroke-width="1.05"/>
<line x1="342.30" y1="454.73" x2="346.70" y2="454.73" stroke="#4B2766" stroke-width="1.05"/>
<line x1="366.40" y1="444.11" x2="366.40" y2="446.85" stroke="#4B2766" stroke-width="1.05"/>
<line x1="364.20" y1="444.11" x2="368.60" y2="444.11" stroke="#4B2766" stroke-width="1.05"/>
<line x1="364.20" y1="446.85" x2="368.60" y2="446.85" stroke="#4B2766" stroke-width="1.05"/>
<line x1="388.30" y1="435.88" x2="388.30" y2="446.85" stroke="#4B2766" stroke-width="1.05"/>
<line x1="386.10" y1="435.88" x2="390.50" y2="435.88" stroke="#4B2766" stroke-width="1.05"/>
<line x1="386.10" y1="446.85" x2="390.50" y2="446.85" stroke="#4B2766" stroke-width="1.05"/>
<polygon points="256.90,455.38 260.02,460.84 253.78,460.84" fill="#4B2766"/>
<polygon points="278.80,455.38 281.92,460.84 275.68,460.84" fill="#4B2766"/>
<polygon points="300.70,455.04 303.82,460.50 297.58,460.50" fill="#4B2766"/>
<polygon points="322.60,453.67 325.72,459.13 319.48,459.13" fill="#4B2766"/>
<polygon points="344.50,450.58 347.62,456.04 341.38,456.04" fill="#4B2766"/>
<polygon points="366.40,442.36 369.52,447.82 363.28,447.82" fill="#4B2766"/>
<polygon points="388.30,438.25 391.42,443.71 385.18,443.71" fill="#4B2766"/>
<polyline points="256.90,458.16 278.80,457.81 300.70,456.44 322.60,452.33 344.50,422.86 366.40,404.36 388.30,388.60" fill="none" stroke="#9B8EC4" stroke-width="1.7" stroke-linejoin="round"/>
<line x1="300.70" y1="455.76" x2="300.70" y2="457.13" stroke="#9B8EC4" stroke-width="1.05"/>
<line x1="298.50" y1="455.76" x2="302.90" y2="455.76" stroke="#9B8EC4" stroke-width="1.05"/>
<line x1="298.50" y1="457.13" x2="302.90" y2="457.13" stroke="#9B8EC4" stroke-width="1.05"/>
<line x1="322.60" y1="451.30" x2="322.60" y2="453.36" stroke="#9B8EC4" stroke-width="1.05"/>
<line x1="320.40" y1="451.30" x2="324.80" y2="451.30" stroke="#9B8EC4" stroke-width="1.05"/>
<line x1="320.40" y1="453.36" x2="324.80" y2="453.36" stroke="#9B8EC4" stroke-width="1.05"/>
<line x1="344.50" y1="421.49" x2="344.50" y2="424.23" stroke="#9B8EC4" stroke-width="1.05"/>
<line x1="342.30" y1="421.49" x2="346.70" y2="421.49" stroke="#9B8EC4" stroke-width="1.05"/>
<line x1="342.30" y1="424.23" x2="346.70" y2="424.23" stroke="#9B8EC4" stroke-width="1.05"/>
<line x1="366.40" y1="394.76" x2="366.40" y2="413.95" stroke="#9B8EC4" stroke-width="1.05"/>
<line x1="364.20" y1="394.76" x2="368.60" y2="394.76" stroke="#9B8EC4" stroke-width="1.05"/>
<line x1="364.20" y1="413.95" x2="368.60" y2="413.95" stroke="#9B8EC4" stroke-width="1.05"/>
<line x1="388.30" y1="372.15" x2="388.30" y2="405.04" stroke="#9B8EC4" stroke-width="1.05"/>
<line x1="386.10" y1="372.15" x2="390.50" y2="372.15" stroke="#9B8EC4" stroke-width="1.05"/>
<line x1="386.10" y1="405.04" x2="390.50" y2="405.04" stroke="#9B8EC4" stroke-width="1.05"/>
<polygon points="256.90,461.28 260.02,455.82 253.78,455.82" fill="#9B8EC4"/>
<polygon points="278.80,460.93 281.92,455.47 275.68,455.47" fill="#9B8EC4"/>
<polygon points="300.70,459.56 303.82,454.10 297.58,454.10" fill="#9B8EC4"/>
<polygon points="322.60,455.45 325.72,449.99 319.48,449.99" fill="#9B8EC4"/>
<polygon points="344.50,425.98 347.62,420.52 341.38,420.52" fill="#9B8EC4"/>
<polygon points="366.40,407.48 369.52,402.02 363.28,402.02" fill="#9B8EC4"/>
<polygon points="388.30,391.72 391.42,386.26 385.18,386.26" fill="#9B8EC4"/>
<polyline points="256.90,457.81 278.80,456.44 300.70,440.68 322.60,414.64 344.50,400.93 366.40,387.23 388.30,374.89" fill="none" stroke="#2C4A7B" stroke-width="1.7" stroke-linejoin="round"/>
<line x1="278.80" y1="455.76" x2="278.80" y2="457.13" stroke="#2C4A7B" stroke-width="1.05"/>
<line x1="276.60" y1="455.76" x2="281.00" y2="455.76" stroke="#2C4A7B" stroke-width="1.05"/>
<line x1="276.60" y1="457.13" x2="281.00" y2="457.13" stroke="#2C4A7B" stroke-width="1.05"/>
<line x1="300.70" y1="437.94" x2="300.70" y2="443.42" stroke="#2C4A7B" stroke-width="1.05"/>
<line x1="298.50" y1="437.94" x2="302.90" y2="437.94" stroke="#2C4A7B" stroke-width="1.05"/>
<line x1="298.50" y1="443.42" x2="302.90" y2="443.42" stroke="#2C4A7B" stroke-width="1.05"/>
<line x1="322.60" y1="411.21" x2="322.60" y2="418.07" stroke="#2C4A7B" stroke-width="1.05"/>
<line x1="320.40" y1="411.21" x2="324.80" y2="411.21" stroke="#2C4A7B" stroke-width="1.05"/>
<line x1="320.40" y1="418.07" x2="324.80" y2="418.07" stroke="#2C4A7B" stroke-width="1.05"/>
<line x1="344.50" y1="393.39" x2="344.50" y2="408.47" stroke="#2C4A7B" stroke-width="1.05"/>
<line x1="342.30" y1="393.39" x2="346.70" y2="393.39" stroke="#2C4A7B" stroke-width="1.05"/>
<line x1="342.30" y1="408.47" x2="346.70" y2="408.47" stroke="#2C4A7B" stroke-width="1.05"/>
<line x1="366.40" y1="382.43" x2="366.40" y2="392.02" stroke="#2C4A7B" stroke-width="1.05"/>
<line x1="364.20" y1="382.43" x2="368.60" y2="382.43" stroke="#2C4A7B" stroke-width="1.05"/>
<line x1="364.20" y1="392.02" x2="368.60" y2="392.02" stroke="#2C4A7B" stroke-width="1.05"/>
<line x1="388.30" y1="372.15" x2="388.30" y2="377.63" stroke="#2C4A7B" stroke-width="1.05"/>
<line x1="386.10" y1="372.15" x2="390.50" y2="372.15" stroke="#2C4A7B" stroke-width="1.05"/>
<line x1="386.10" y1="377.63" x2="390.50" y2="377.63" stroke="#2C4A7B" stroke-width="1.05"/>
<rect x="254.30" y="455.21" width="5.20" height="5.20" fill="#2C4A7B"/>
<rect x="276.20" y="453.84" width="5.20" height="5.20" fill="#2C4A7B"/>
<rect x="298.10" y="438.08" width="5.20" height="5.20" fill="#2C4A7B"/>
<rect x="320.00" y="412.04" width="5.20" height="5.20" fill="#2C4A7B"/>
<rect x="341.90" y="398.33" width="5.20" height="5.20" fill="#2C4A7B"/>
<rect x="363.80" y="384.63" width="5.20" height="5.20" fill="#2C4A7B"/>
<rect x="385.70" y="372.29" width="5.20" height="5.20" fill="#2C4A7B"/>
<polyline points="256.90,455.76 278.80,453.36 300.70,409.16 322.60,386.81 344.50,382.43 366.40,379.69 388.30,378.32" fill="none" stroke="#A6042D" stroke-width="1.7" stroke-linejoin="round"/>
<line x1="256.90" y1="455.07" x2="256.90" y2="456.44" stroke="#A6042D" stroke-width="1.05"/>
<line x1="254.70" y1="455.07" x2="259.10" y2="455.07" stroke="#A6042D" stroke-width="1.05"/>
<line x1="254.70" y1="456.44" x2="259.10" y2="456.44" stroke="#A6042D" stroke-width="1.05"/>
<line x1="278.80" y1="452.67" x2="278.80" y2="454.05" stroke="#A6042D" stroke-width="1.05"/>
<line x1="276.60" y1="452.67" x2="281.00" y2="452.67" stroke="#A6042D" stroke-width="1.05"/>
<line x1="276.60" y1="454.05" x2="281.00" y2="454.05" stroke="#A6042D" stroke-width="1.05"/>
<line x1="300.70" y1="407.10" x2="300.70" y2="411.21" stroke="#A6042D" stroke-width="1.05"/>
<line x1="298.50" y1="407.10" x2="302.90" y2="407.10" stroke="#A6042D" stroke-width="1.05"/>
<line x1="298.50" y1="411.21" x2="302.90" y2="411.21" stroke="#A6042D" stroke-width="1.05"/>
<line x1="322.60" y1="384.76" x2="322.60" y2="388.87" stroke="#A6042D" stroke-width="1.05"/>
<line x1="320.40" y1="384.76" x2="324.80" y2="384.76" stroke="#A6042D" stroke-width="1.05"/>
<line x1="320.40" y1="388.87" x2="324.80" y2="388.87" stroke="#A6042D" stroke-width="1.05"/>
<line x1="344.50" y1="378.32" x2="344.50" y2="386.54" stroke="#A6042D" stroke-width="1.05"/>
<line x1="342.30" y1="378.32" x2="346.70" y2="378.32" stroke="#A6042D" stroke-width="1.05"/>
<line x1="342.30" y1="386.54" x2="346.70" y2="386.54" stroke="#A6042D" stroke-width="1.05"/>
<line x1="366.40" y1="364.61" x2="366.40" y2="394.76" stroke="#A6042D" stroke-width="1.05"/>
<line x1="364.20" y1="364.61" x2="368.60" y2="364.61" stroke="#A6042D" stroke-width="1.05"/>
<line x1="364.20" y1="394.76" x2="368.60" y2="394.76" stroke="#A6042D" stroke-width="1.05"/>
<line x1="388.30" y1="374.89" x2="388.30" y2="381.74" stroke="#A6042D" stroke-width="1.05"/>
<line x1="386.10" y1="374.89" x2="390.50" y2="374.89" stroke="#A6042D" stroke-width="1.05"/>
<line x1="386.10" y1="381.74" x2="390.50" y2="381.74" stroke="#A6042D" stroke-width="1.05"/>
<circle cx="256.90" cy="455.76" r="2.60" fill="#A6042D"/>
<circle cx="278.80" cy="453.36" r="2.60" fill="#A6042D"/>
<circle cx="300.70" cy="409.16" r="2.60" fill="#A6042D"/>
<circle cx="322.60" cy="386.81" r="2.60" fill="#A6042D"/>
<circle cx="344.50" cy="382.43" r="2.60" fill="#A6042D"/>
<circle cx="366.40" cy="379.69" r="2.60" fill="#A6042D"/>
<circle cx="388.30" cy="378.32" r="2.60" fill="#A6042D"/>
<line x1="244.90" y1="458.50" x2="400.00" y2="458.50" stroke="#111" stroke-width="1.45"/>
<line x1="256.90" y1="458.50" x2="256.90" y2="461.50" stroke="#111" stroke-width="1.15"/>
<text x="256.90" y="471.80" font-size="8" fill="#2a2a2a" text-anchor="middle">3.16</text>
<line x1="278.80" y1="458.50" x2="278.80" y2="461.50" stroke="#111" stroke-width="1.15"/>
<text x="278.80" y="471.80" font-size="8" fill="#2a2a2a" text-anchor="middle">10</text>
<line x1="300.70" y1="458.50" x2="300.70" y2="461.50" stroke="#111" stroke-width="1.15"/>
<text x="300.70" y="471.80" font-size="8" fill="#2a2a2a" text-anchor="middle">31.6</text>
<line x1="322.60" y1="458.50" x2="322.60" y2="461.50" stroke="#111" stroke-width="1.15"/>
<text x="322.60" y="471.80" font-size="8" fill="#2a2a2a" text-anchor="middle">100</text>
<line x1="344.50" y1="458.50" x2="344.50" y2="461.50" stroke="#111" stroke-width="1.15"/>
<text x="344.50" y="471.80" font-size="8" fill="#2a2a2a" text-anchor="middle">316</text>
<line x1="366.40" y1="458.50" x2="366.40" y2="461.50" stroke="#111" stroke-width="1.15"/>
<text x="366.40" y="471.80" font-size="8" fill="#2a2a2a" text-anchor="middle">1000</text>
<line x1="388.30" y1="458.50" x2="388.30" y2="461.50" stroke="#111" stroke-width="1.15"/>
<text x="388.30" y="471.80" font-size="8" fill="#2a2a2a" text-anchor="middle">3160</text>
<text x="321.70" y="485.60" font-size="8.8" fill="#303030" text-anchor="middle" font-weight="bold" textLength="36.00" lengthAdjust="spacingAndGlyphs">IVIg dilution</text>
<text x="218.70" y="404.00" font-size="8.8" fill="#303030" text-anchor="middle" font-weight="bold" textLength="71.10" lengthAdjust="spacingAndGlyphs" transform="rotate(-90 218.70 404.00)">% of residual expression</text>
<circle cx="296.10" cy="388.00" r="1.15" fill="#111"/>
<circle cx="299.40" cy="388.00" r="1.15" fill="#111"/>
<circle cx="302.70" cy="388.00" r="1.15" fill="#111"/>
<text x="299.40" y="396.70" font-size="9.0" fill="#1a1a1a" text-anchor="middle" font-family="Liberation Serif" textLength="10.50" lengthAdjust="spacingAndGlyphs">πππ</text>
<text x="299.40" y="404.80" font-size="9.4" fill="#1a1a1a" text-anchor="middle" font-family="Liberation Serif" textLength="11.10" lengthAdjust="spacingAndGlyphs">δδδ</text>
<circle cx="319.40" cy="366.20" r="1.15" fill="#111"/>
<circle cx="322.70" cy="366.20" r="1.15" fill="#111"/>
<circle cx="326.00" cy="366.20" r="1.15" fill="#111"/>
<text x="322.70" y="375.30" font-size="9.0" fill="#1a1a1a" text-anchor="middle" font-family="Liberation Serif" textLength="7.00" lengthAdjust="spacingAndGlyphs">ππ</text>
<text x="322.70" y="382.80" font-size="9.4" fill="#1a1a1a" text-anchor="middle" font-family="Liberation Serif" textLength="11.10" lengthAdjust="spacingAndGlyphs">δδδ</text>
<circle cx="341.20" cy="363.80" r="1.15" fill="#111"/>
<circle cx="344.50" cy="363.80" r="1.15" fill="#111"/>
<circle cx="347.80" cy="363.80" r="1.15" fill="#111"/>
<text x="344.50" y="374.80" font-size="9.4" fill="#1a1a1a" text-anchor="middle" font-family="Liberation Serif" textLength="11.10" lengthAdjust="spacingAndGlyphs">δδδ</text>
<circle cx="363.10" cy="352.30" r="1.15" fill="#111"/>
<circle cx="366.40" cy="352.30" r="1.15" fill="#111"/>
<circle cx="369.70" cy="352.30" r="1.15" fill="#111"/>
<text x="366.40" y="362.60" font-size="9.4" fill="#1a1a1a" text-anchor="middle" font-family="Liberation Serif" textLength="7.40" lengthAdjust="spacingAndGlyphs">δδ</text>
<circle cx="385.00" cy="366.30" r="1.15" fill="#111"/>
<circle cx="388.30" cy="366.30" r="1.15" fill="#111"/>
<circle cx="391.60" cy="366.30" r="1.15" fill="#111"/>
<line x1="405.10" y1="389.30" x2="416.20" y2="389.30" stroke="#A6042D" stroke-width="1.7"/>
<circle cx="410.60" cy="389.30" r="2.30" fill="#A6042D"/>
<text x="419.60" y="392.00" font-size="7.5" fill="#2a2a2a">exo-AAV8</text>
<line x1="405.10" y1="405.00" x2="416.20" y2="405.00" stroke="#2C4A7B" stroke-width="1.7"/>
<rect x="408.30" y="402.70" width="4.60" height="4.60" fill="#2C4A7B"/>
<text x="419.60" y="407.70" font-size="7.5" fill="#2a2a2a">exo-AAV8 + Triton 0.075%</text>
<line x1="405.10" y1="418.80" x2="416.20" y2="418.80" stroke="#9B8EC4" stroke-width="1.7"/>
<polygon points="410.60,421.56 413.36,416.73 407.84,416.73" fill="#9B8EC4"/>
<text x="419.60" y="421.50" font-size="7.5" fill="#2a2a2a">AAV8 + 5x empty capsids</text>
<line x1="405.10" y1="432.40" x2="416.20" y2="432.40" stroke="#4B2766" stroke-width="1.7"/>
<polygon points="410.60,429.64 413.36,434.47 407.84,434.47" fill="#4B2766"/>
<text x="419.60" y="435.10" font-size="7.5" fill="#2a2a2a">AAV8</text>
<text x="7.60" y="512.90" font-size="11" fill="#000" font-weight="bold">H</text>
<text x="82.80" y="526.30" font-size="8.5" fill="#000" font-weight="bold" textLength="31.20" lengthAdjust="spacingAndGlyphs">NAb 1:1</text>
<polyline points="56.20,576.58 84.50,581.89 112.70,585.77 140.90,581.18" fill="none" stroke="#A6042D" stroke-width="1.75" stroke-linejoin="round"/>
<line x1="84.50" y1="579.02" x2="84.50" y2="584.76" stroke="#A6042D" stroke-width="1.15"/>
<line x1="81.90" y1="579.02" x2="87.10" y2="579.02" stroke="#A6042D" stroke-width="1.15"/>
<line x1="81.90" y1="584.76" x2="87.10" y2="584.76" stroke="#A6042D" stroke-width="1.15"/>
<polyline points="56.20,608.02 84.50,587.71 112.70,588.21 140.90,584.33" fill="none" stroke="#A6042D" stroke-width="1.75" stroke-linejoin="round"/>
<polyline points="56.20,626.89 84.50,596.53 112.70,578.59 140.90,564.24" fill="none" stroke="#52246A" stroke-width="1.75" stroke-linejoin="round"/>
<polyline points="56.20,620.50 84.50,601.56 112.70,576.44 140.90,572.85" fill="none" stroke="#52246A" stroke-width="1.75" stroke-linejoin="round"/>
<circle cx="56.20" cy="576.58" r="3.20" fill="#A6042D"/>
<circle cx="84.50" cy="581.89" r="3.20" fill="#A6042D"/>
<circle cx="112.70" cy="585.77" r="3.20" fill="#A6042D"/>
<circle cx="140.90" cy="581.18" r="3.20" fill="#A6042D"/>
<rect x="53.00" y="604.82" width="6.40" height="6.40" fill="#A6042D"/>
<rect x="81.30" y="584.51" width="6.40" height="6.40" fill="#A6042D"/>
<rect x="109.50" y="585.01" width="6.40" height="6.40" fill="#A6042D"/>
<rect x="137.70" y="581.13" width="6.40" height="6.40" fill="#A6042D"/>
<circle cx="56.20" cy="626.89" r="3.20" fill="#52246A"/>
<circle cx="84.50" cy="596.53" r="3.20" fill="#52246A"/>
<circle cx="112.70" cy="578.59" r="3.20" fill="#52246A"/>
<circle cx="140.90" cy="564.24" r="3.20" fill="#52246A"/>
<rect x="53.00" y="617.30" width="6.40" height="6.40" fill="#52246A"/>
<rect x="81.30" y="598.36" width="6.40" height="6.40" fill="#52246A"/>
<rect x="109.50" y="573.24" width="6.40" height="6.40" fill="#52246A"/>
<rect x="137.70" y="569.65" width="6.40" height="6.40" fill="#52246A"/>
<line x1="42.20" y1="644.60" x2="42.20" y2="533.15" stroke="#111" stroke-width="1.45"/>
<line x1="39.20" y1="643.90" x2="42.20" y2="643.90" stroke="#111" stroke-width="1.15"/>
<text x="35.70" y="646.70" font-size="7.9" fill="#2a2a2a" text-anchor="end">0</text>
<line x1="39.20" y1="608.02" x2="42.20" y2="608.02" stroke="#111" stroke-width="1.15"/>
<text x="35.70" y="610.82" font-size="7.9" fill="#2a2a2a" text-anchor="end">50</text>
<line x1="39.20" y1="572.13" x2="42.20" y2="572.13" stroke="#111" stroke-width="1.15"/>
<text x="35.70" y="574.94" font-size="7.9" fill="#2a2a2a" text-anchor="end">100</text>
<line x1="39.20" y1="536.25" x2="42.20" y2="536.25" stroke="#111" stroke-width="1.15"/>
<text x="35.70" y="539.05" font-size="7.9" fill="#2a2a2a" text-anchor="end">150</text>
<line x1="41.50" y1="643.90" x2="152.60" y2="643.90" stroke="#111" stroke-width="1.45"/>
<line x1="56.20" y1="643.90" x2="56.20" y2="646.90" stroke="#111" stroke-width="1.15"/>
<text x="56.20" y="657.20" font-size="7.8" fill="#2a2a2a" text-anchor="middle">1:1</text>
<line x1="84.50" y1="643.90" x2="84.50" y2="646.90" stroke="#111" stroke-width="1.15"/>
<text x="84.50" y="657.20" font-size="7.8" fill="#2a2a2a" text-anchor="middle">1:3.16</text>
<line x1="112.70" y1="643.90" x2="112.70" y2="646.90" stroke="#111" stroke-width="1.15"/>
<text x="112.70" y="657.20" font-size="7.8" fill="#2a2a2a" text-anchor="middle">1:10</text>
<line x1="140.90" y1="643.90" x2="140.90" y2="646.90" stroke="#111" stroke-width="1.15"/>
<text x="140.90" y="657.20" font-size="7.8" fill="#2a2a2a" text-anchor="middle">1:31.6</text>
<line x1="152.10" y1="595.90" x2="163.40" y2="595.90" stroke="#A6042D" stroke-width="1.7"/>
<circle cx="157.80" cy="595.90" r="2.90" fill="#A6042D"/>
<text x="167.10" y="598.70" font-size="8.1" fill="#2a2a2a">#3</text>
<line x1="152.10" y1="608.10" x2="163.40" y2="608.10" stroke="#52246A" stroke-width="1.7"/>
<circle cx="157.80" cy="608.10" r="2.90" fill="#52246A"/>
<text x="167.10" y="610.90" font-size="8.1" fill="#2a2a2a">#3</text>
<line x1="152.10" y1="620.30" x2="163.40" y2="620.30" stroke="#A6042D" stroke-width="1.7"/>
<rect x="154.90" y="617.40" width="5.80" height="5.80" fill="#A6042D"/>
<text x="167.10" y="623.10" font-size="8.1" fill="#2a2a2a">#5</text>
<line x1="152.10" y1="632.50" x2="163.40" y2="632.50" stroke="#52246A" stroke-width="1.7"/>
<rect x="154.90" y="629.60" width="5.80" height="5.80" fill="#52246A"/>
<text x="167.10" y="635.30" font-size="8.1" fill="#2a2a2a">#5</text>
<line x1="84.50" y1="610.67" x2="84.50" y2="601.56" stroke="#52246A" stroke-width="1.15"/>
<line x1="81.70" y1="610.67" x2="87.30" y2="610.67" stroke="#52246A" stroke-width="1.15"/>
<text x="239.30" y="526.30" font-size="8.5" fill="#000" font-weight="bold" textLength="44.20" lengthAdjust="spacingAndGlyphs">NAb 1:3.16</text>
<polyline points="218.90,585.23 247.30,585.23 275.40,585.23 303.40,578.71" fill="none" stroke="#A6042D" stroke-width="1.75" stroke-linejoin="round"/>
<line x1="247.30" y1="581.53" x2="247.30" y2="588.94" stroke="#A6042D" stroke-width="1.15"/>
<line x1="244.70" y1="581.53" x2="249.90" y2="581.53" stroke="#A6042D" stroke-width="1.15"/>
<line x1="244.70" y1="588.94" x2="249.90" y2="588.94" stroke="#A6042D" stroke-width="1.15"/>
<polyline points="218.90,596.35 247.30,589.68 275.40,587.46 303.40,585.98" fill="none" stroke="#A6042D" stroke-width="1.75" stroke-linejoin="round"/>
<polyline points="218.90,607.47 247.30,594.13 275.40,587.01 303.40,584.49" fill="none" stroke="#A6042D" stroke-width="1.75" stroke-linejoin="round"/>
<polyline points="218.90,639.35 247.30,615.11 275.40,580.19 303.40,551.58" fill="none" stroke="#52246A" stroke-width="1.75" stroke-linejoin="round"/>
<polyline points="218.90,638.98 247.30,609.40 275.40,579.82 303.40,569.67" fill="none" stroke="#52246A" stroke-width="1.75" stroke-linejoin="round"/>
<line x1="303.40" y1="559.29" x2="303.40" y2="580.05" stroke="#52246A" stroke-width="1.15"/>
<line x1="300.80" y1="559.29" x2="306.00" y2="559.29" stroke="#52246A" stroke-width="1.15"/>
<line x1="300.80" y1="580.05" x2="306.00" y2="580.05" stroke="#52246A" stroke-width="1.15"/>
<polyline points="218.90,643.80 247.30,637.72 275.40,603.03 303.40,581.53" fill="none" stroke="#52246A" stroke-width="1.75" stroke-linejoin="round"/>
<circle cx="218.90" cy="585.23" r="3.20" fill="#A6042D"/>
<circle cx="247.30" cy="585.23" r="3.20" fill="#A6042D"/>
<circle cx="275.40" cy="585.23" r="3.20" fill="#A6042D"/>
<circle cx="303.40" cy="578.71" r="3.20" fill="#A6042D"/>
<rect x="215.70" y="593.15" width="6.40" height="6.40" fill="#A6042D"/>
<rect x="244.10" y="586.48" width="6.40" height="6.40" fill="#A6042D"/>
<rect x="272.20" y="584.26" width="6.40" height="6.40" fill="#A6042D"/>
<rect x="300.20" y="582.78" width="6.40" height="6.40" fill="#A6042D"/>
<polygon points="218.90,603.63 222.74,610.35 215.06,610.35" fill="#A6042D"/>
<polygon points="247.30,590.29 251.14,597.01 243.46,597.01" fill="#A6042D"/>
<polygon points="275.40,583.17 279.24,589.89 271.56,589.89" fill="#A6042D"/>
<polygon points="303.40,580.65 307.24,587.37 299.56,587.37" fill="#A6042D"/>
<circle cx="218.90" cy="639.35" r="3.20" fill="#52246A"/>
<circle cx="247.30" cy="615.11" r="3.20" fill="#52246A"/>
<circle cx="275.40" cy="580.19" r="3.20" fill="#52246A"/>
<circle cx="303.40" cy="551.58" r="3.20" fill="#52246A"/>
<rect x="215.70" y="635.78" width="6.40" height="6.40" fill="#52246A"/>
<rect x="244.10" y="606.20" width="6.40" height="6.40" fill="#52246A"/>
<rect x="272.20" y="576.62" width="6.40" height="6.40" fill="#52246A"/>
<rect x="300.20" y="566.47" width="6.40" height="6.40" fill="#52246A"/>
<polygon points="218.90,639.96 222.74,646.68 215.06,646.68" fill="#52246A"/>
<polygon points="247.30,633.88 251.14,640.60 243.46,640.60" fill="#52246A"/>
<polygon points="275.40,599.19 279.24,605.91 271.56,605.91" fill="#52246A"/>
<polygon points="303.40,577.69 307.24,584.41 299.56,584.41" fill="#52246A"/>
<line x1="205.00" y1="644.50" x2="205.00" y2="529.50" stroke="#111" stroke-width="1.45"/>
<line x1="202.00" y1="643.80" x2="205.00" y2="643.80" stroke="#111" stroke-width="1.15"/>
<text x="198.50" y="646.60" font-size="7.9" fill="#2a2a2a" text-anchor="end">0</text>
<line x1="202.00" y1="606.73" x2="205.00" y2="606.73" stroke="#111" stroke-width="1.15"/>
<text x="198.50" y="609.54" font-size="7.9" fill="#2a2a2a" text-anchor="end">50</text>
<line x1="202.00" y1="569.67" x2="205.00" y2="569.67" stroke="#111" stroke-width="1.15"/>
<text x="198.50" y="572.47" font-size="7.9" fill="#2a2a2a" text-anchor="end">100</text>
<line x1="202.00" y1="532.60" x2="205.00" y2="532.60" stroke="#111" stroke-width="1.15"/>
<text x="198.50" y="535.40" font-size="7.9" fill="#2a2a2a" text-anchor="end">150</text>
<line x1="204.30" y1="643.80" x2="316.00" y2="643.80" stroke="#111" stroke-width="1.45"/>
<line x1="218.90" y1="643.80" x2="218.90" y2="646.80" stroke="#111" stroke-width="1.15"/>
<text x="218.90" y="657.20" font-size="7.8" fill="#2a2a2a" text-anchor="middle">1:1</text>
<line x1="247.30" y1="643.80" x2="247.30" y2="646.80" stroke="#111" stroke-width="1.15"/>
<text x="247.30" y="657.20" font-size="7.8" fill="#2a2a2a" text-anchor="middle">1:3.16</text>
<line x1="275.40" y1="643.80" x2="275.40" y2="646.80" stroke="#111" stroke-width="1.15"/>
<text x="275.40" y="657.20" font-size="7.8" fill="#2a2a2a" text-anchor="middle">1:10</text>
<line x1="303.40" y1="643.80" x2="303.40" y2="646.80" stroke="#111" stroke-width="1.15"/>
<text x="303.40" y="657.20" font-size="7.8" fill="#2a2a2a" text-anchor="middle">1:31.6</text>
<line x1="317.10" y1="580.20" x2="328.40" y2="580.20" stroke="#A6042D" stroke-width="1.7"/>
<circle cx="322.80" cy="580.20" r="2.90" fill="#A6042D"/>
<text x="332.10" y="583.00" font-size="8.1" fill="#2a2a2a">#6</text>
<line x1="317.10" y1="590.70" x2="328.40" y2="590.70" stroke="#52246A" stroke-width="1.7"/>
<circle cx="322.80" cy="590.70" r="2.90" fill="#52246A"/>
<text x="332.10" y="593.50" font-size="8.1" fill="#2a2a2a">#6</text>
<line x1="317.10" y1="601.20" x2="328.40" y2="601.20" stroke="#A6042D" stroke-width="1.7"/>
<rect x="319.90" y="598.30" width="5.80" height="5.80" fill="#A6042D"/>
<text x="332.10" y="604.00" font-size="8.1" fill="#2a2a2a">#7</text>
<line x1="317.10" y1="611.70" x2="328.40" y2="611.70" stroke="#52246A" stroke-width="1.7"/>
<rect x="319.90" y="608.80" width="5.80" height="5.80" fill="#52246A"/>
<text x="332.10" y="614.50" font-size="8.1" fill="#2a2a2a">#7</text>
<line x1="317.10" y1="622.20" x2="328.40" y2="622.20" stroke="#A6042D" stroke-width="1.7"/>
<polygon points="322.80,618.72 326.28,624.81 319.32,624.81" fill="#A6042D"/>
<text x="332.10" y="625.00" font-size="8.1" fill="#2a2a2a">#9</text>
<line x1="317.10" y1="632.70" x2="328.40" y2="632.70" stroke="#52246A" stroke-width="1.7"/>
<polygon points="322.80,629.22 326.28,635.31 319.32,635.31" fill="#52246A"/>
<text x="332.10" y="635.50" font-size="8.1" fill="#2a2a2a">#9</text>
<text x="400.90" y="526.30" font-size="8.5" fill="#000" font-weight="bold" textLength="48.80" lengthAdjust="spacingAndGlyphs">NAb 1:31.16</text>
<polyline points="383.80,643.60 411.70,643.60 439.50,642.85 467.60,631.59" fill="none" stroke="#52246A" stroke-width="1.75" stroke-linejoin="round"/>
<polyline points="383.80,643.60 411.70,643.60 439.50,642.85 467.60,636.09" fill="none" stroke="#52246A" stroke-width="1.75" stroke-linejoin="round"/>
<polyline points="383.80,643.60 411.70,643.60 439.50,642.10 467.60,611.32" fill="none" stroke="#52246A" stroke-width="1.75" stroke-linejoin="round"/>
<polyline points="383.80,643.60 411.70,643.60 439.50,642.85 467.60,638.35" fill="none" stroke="#52246A" stroke-width="1.75" stroke-linejoin="round"/>
<polyline points="383.80,643.60 411.70,632.34 439.50,606.07 467.60,585.80" fill="none" stroke="#A6042D" stroke-width="1.75" stroke-linejoin="round"/>
<polyline points="383.80,643.60 411.70,628.59 439.50,606.07 467.60,578.29" fill="none" stroke="#A6042D" stroke-width="1.75" stroke-linejoin="round"/>
<polyline points="383.80,643.60 411.70,627.09 439.50,604.57 467.60,590.30" fill="none" stroke="#A6042D" stroke-width="1.75" stroke-linejoin="round"/>
<polyline points="383.80,643.60 411.70,628.59 439.50,597.81 467.60,569.28" fill="none" stroke="#A6042D" stroke-width="1.75" stroke-linejoin="round"/>
<circle cx="383.80" cy="643.60" r="3.20" fill="#52246A"/>
<circle cx="411.70" cy="643.60" r="3.20" fill="#52246A"/>
<circle cx="439.50" cy="642.85" r="3.20" fill="#52246A"/>
<circle cx="467.60" cy="631.59" r="3.20" fill="#52246A"/>
<rect x="380.60" y="640.40" width="6.40" height="6.40" fill="#52246A"/>
<rect x="408.50" y="640.40" width="6.40" height="6.40" fill="#52246A"/>
<rect x="436.30" y="639.65" width="6.40" height="6.40" fill="#52246A"/>
<rect x="464.40" y="632.89" width="6.40" height="6.40" fill="#52246A"/>
<polygon points="383.80,639.76 387.64,646.48 379.96,646.48" fill="#52246A"/>
<polygon points="411.70,639.76 415.54,646.48 407.86,646.48" fill="#52246A"/>
<polygon points="439.50,638.26 443.34,644.98 435.66,644.98" fill="#52246A"/>
<polygon points="467.60,607.48 471.44,614.20 463.76,614.20" fill="#52246A"/>
<circle cx="383.80" cy="643.60" r="2.65" fill="none" stroke="#52246A" stroke-width="1.15"/>
<circle cx="411.70" cy="643.60" r="2.65" fill="none" stroke="#52246A" stroke-width="1.15"/>
<circle cx="439.50" cy="642.85" r="2.65" fill="none" stroke="#52246A" stroke-width="1.15"/>
<circle cx="467.60" cy="638.35" r="2.65" fill="none" stroke="#52246A" stroke-width="1.15"/>
<circle cx="383.80" cy="643.60" r="3.20" fill="#A6042D"/>
<circle cx="411.70" cy="632.34" r="3.20" fill="#A6042D"/>
<circle cx="439.50" cy="606.07" r="3.20" fill="#A6042D"/>
<circle cx="467.60" cy="585.80" r="3.20" fill="#A6042D"/>
<rect x="380.60" y="640.40" width="6.40" height="6.40" fill="#A6042D"/>
<rect x="408.50" y="625.39" width="6.40" height="6.40" fill="#A6042D"/>
<rect x="436.30" y="602.87" width="6.40" height="6.40" fill="#A6042D"/>
<rect x="464.40" y="575.09" width="6.40" height="6.40" fill="#A6042D"/>
<polygon points="383.80,639.76 387.64,646.48 379.96,646.48" fill="#A6042D"/>
<polygon points="411.70,623.25 415.54,629.97 407.86,629.97" fill="#A6042D"/>
<polygon points="439.50,600.73 443.34,607.45 435.66,607.45" fill="#A6042D"/>
<polygon points="467.60,586.46 471.44,593.18 463.76,593.18" fill="#A6042D"/>
<circle cx="383.80" cy="643.60" r="2.65" fill="none" stroke="#A6042D" stroke-width="1.15"/>
<circle cx="411.70" cy="628.59" r="2.65" fill="none" stroke="#A6042D" stroke-width="1.15"/>
<circle cx="439.50" cy="597.81" r="2.65" fill="none" stroke="#A6042D" stroke-width="1.15"/>
<circle cx="467.60" cy="569.28" r="2.65" fill="none" stroke="#A6042D" stroke-width="1.15"/>
<line x1="369.70" y1="644.30" x2="369.70" y2="527.90" stroke="#111" stroke-width="1.45"/>
<line x1="366.70" y1="643.60" x2="369.70" y2="643.60" stroke="#111" stroke-width="1.15"/>
<text x="363.20" y="646.40" font-size="7.9" fill="#2a2a2a" text-anchor="end">0</text>
<line x1="366.70" y1="606.07" x2="369.70" y2="606.07" stroke="#111" stroke-width="1.15"/>
<text x="363.20" y="608.87" font-size="7.9" fill="#2a2a2a" text-anchor="end">50</text>
<line x1="366.70" y1="568.53" x2="369.70" y2="568.53" stroke="#111" stroke-width="1.15"/>
<text x="363.20" y="571.34" font-size="7.9" fill="#2a2a2a" text-anchor="end">100</text>
<line x1="366.70" y1="531.00" x2="369.70" y2="531.00" stroke="#111" stroke-width="1.15"/>
<text x="363.20" y="533.80" font-size="7.9" fill="#2a2a2a" text-anchor="end">150</text>
<line x1="369.00" y1="643.60" x2="480.60" y2="643.60" stroke="#111" stroke-width="1.45"/>
<line x1="383.80" y1="643.60" x2="383.80" y2="646.60" stroke="#111" stroke-width="1.15"/>
<text x="383.80" y="657.20" font-size="7.8" fill="#2a2a2a" text-anchor="middle">1:1</text>
<line x1="411.70" y1="643.60" x2="411.70" y2="646.60" stroke="#111" stroke-width="1.15"/>
<text x="411.70" y="657.20" font-size="7.8" fill="#2a2a2a" text-anchor="middle">1:3.16</text>
<line x1="439.50" y1="643.60" x2="439.50" y2="646.60" stroke="#111" stroke-width="1.15"/>
<text x="439.50" y="657.20" font-size="7.8" fill="#2a2a2a" text-anchor="middle">1:10</text>
<line x1="467.60" y1="643.60" x2="467.60" y2="646.60" stroke="#111" stroke-width="1.15"/>
<text x="467.60" y="657.20" font-size="7.8" fill="#2a2a2a" text-anchor="middle">1:31.6</text>
<line x1="481.40" y1="552.50" x2="492.70" y2="552.50" stroke="#A6042D" stroke-width="1.7"/>
<circle cx="487.10" cy="552.50" r="2.90" fill="#A6042D"/>
<text x="496.40" y="555.30" font-size="8.1" fill="#2a2a2a">#8</text>
<line x1="481.40" y1="563.95" x2="492.70" y2="563.95" stroke="#52246A" stroke-width="1.7"/>
<circle cx="487.10" cy="563.95" r="2.90" fill="#52246A"/>
<text x="496.40" y="566.75" font-size="8.1" fill="#2a2a2a">#8</text>
<line x1="481.40" y1="575.40" x2="492.70" y2="575.40" stroke="#A6042D" stroke-width="1.7"/>
<rect x="484.20" y="572.50" width="5.80" height="5.80" fill="#A6042D"/>
<text x="496.40" y="578.20" font-size="8.1" fill="#2a2a2a">#12</text>
<line x1="481.40" y1="586.85" x2="492.70" y2="586.85" stroke="#52246A" stroke-width="1.7"/>
<rect x="484.20" y="583.95" width="5.80" height="5.80" fill="#52246A"/>
<text x="496.40" y="589.65" font-size="8.1" fill="#2a2a2a">#12</text>
<line x1="481.40" y1="598.30" x2="492.70" y2="598.30" stroke="#A6042D" stroke-width="1.7"/>
<polygon points="487.10,594.82 490.58,600.91 483.62,600.91" fill="#A6042D"/>
<text x="496.40" y="601.10" font-size="8.1" fill="#2a2a2a">#13</text>
<line x1="481.40" y1="609.75" x2="492.70" y2="609.75" stroke="#52246A" stroke-width="1.7"/>
<polygon points="487.10,606.27 490.58,612.36 483.62,612.36" fill="#52246A"/>
<text x="496.40" y="612.55" font-size="8.1" fill="#2a2a2a">#13</text>
<line x1="481.40" y1="621.20" x2="492.70" y2="621.20" stroke="#52246A" stroke-width="1.7"/>
<circle cx="487.10" cy="621.20" r="2.35" fill="none" stroke="#52246A" stroke-width="1.15"/>
<text x="496.40" y="624.00" font-size="8.1" fill="#2a2a2a">#14</text>
<line x1="481.40" y1="632.65" x2="492.70" y2="632.65" stroke="#A6042D" stroke-width="1.7"/>
<circle cx="487.10" cy="632.65" r="2.35" fill="none" stroke="#A6042D" stroke-width="1.15"/>
<text x="496.40" y="635.45" font-size="8.1" fill="#2a2a2a">#14</text>
<text x="15.40" y="588.50" font-size="8.4" fill="#303030" text-anchor="middle" font-weight="bold" textLength="29.00" lengthAdjust="spacingAndGlyphs" transform="rotate(-90 15.40 588.50)">% of max</text>
<text x="91.00" y="670.60" font-size="8.8" fill="#303030" text-anchor="middle" font-weight="bold" textLength="21.50" lengthAdjust="spacingAndGlyphs">Dilution</text>
<line x1="12.70" y1="667.40" x2="12.70" y2="637.50" stroke="#000" stroke-width="1.35"/>
<polygon points="12.70,633.40 15.20,639.30 10.20,639.30" fill="#000"/>
<line x1="12.05" y1="666.80" x2="40.00" y2="666.80" stroke="#000" stroke-width="1.35"/>
<polygon points="44.10,666.80 38.30,664.30 38.30,669.30" fill="#000"/>
<line x1="192.90" y1="680.90" x2="224.00" y2="680.90" stroke="#52246A" stroke-width="1.7"/>
<text x="228.90" y="683.50" font-size="7.2" fill="#2a2a2a">AAV8</text>
<line x1="258.40" y1="680.90" x2="288.90" y2="680.90" stroke="#A6042D" stroke-width="1.7"/>
<text x="294.40" y="683.50" font-size="7.2" fill="#2a2a2a">exo-AAV8</text>
<rect x="0.75" y="0.75" width="518.5" height="690.5" fill="none" stroke="#000" stroke-width="1.5"/>
</svg>
</body></html>
